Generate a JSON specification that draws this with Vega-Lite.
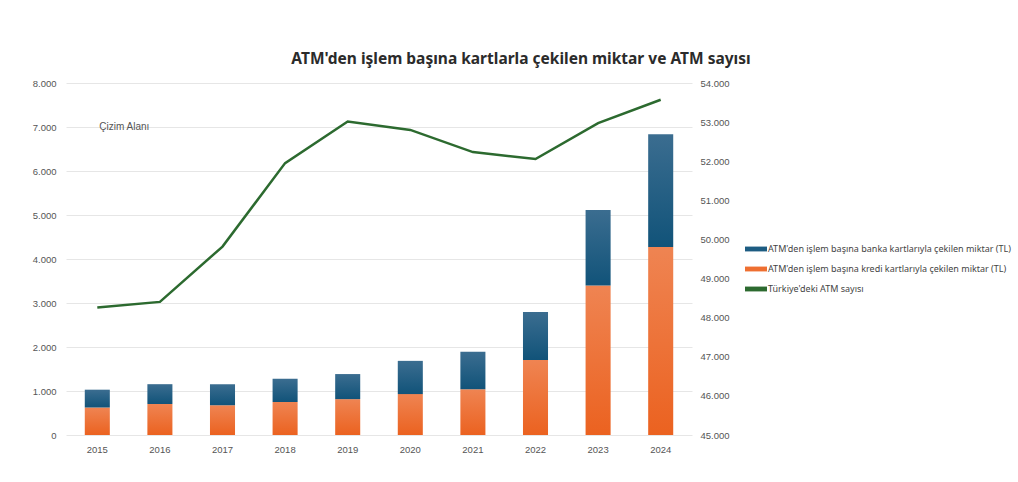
{
  "$schema": "https://vega.github.io/schema/vega-lite/v6.json",
  "width": 626,
  "height": 352,
  "autosize": "none",
  "padding": {"left": 66, "top": 83, "right": 326, "bottom": 47},
  "background": "white",
  "title": {
    "text": "ATM'den işlem başına kartlarla çekilen miktar ve ATM sayısı",
    "font": "Noto Sans",
    "fontSize": 15.5,
    "fontWeight": "bold",
    "color": "#2b2b2b",
    "anchor": "middle",
    "dx": 142,
    "offset": 11
  },
  "config": {
    "locale": {"number": {"decimal": ",", "thousands": ".", "grouping": [3], "currency": ["", " TL"]}},
    "view": {"stroke": null},
    "axis": {"labelFont": "Liberation Sans", "labelFontSize": 9.5, "labelColor": "#555555", "ticks": false, "domain": false, "title": null, "labelOverlap": false}
  },
  "datasets": {
    "bars": [
      {"year": "2015", "series": "ATM'den işlem başına kredi kartlarıyla çekilen miktar (TL)", "value": 625},
      {"year": "2015", "series": "ATM'den işlem başına banka kartlarıyla çekilen miktar (TL)", "value": 405},
      {"year": "2016", "series": "ATM'den işlem başına kredi kartlarıyla çekilen miktar (TL)", "value": 705},
      {"year": "2016", "series": "ATM'den işlem başına banka kartlarıyla çekilen miktar (TL)", "value": 450},
      {"year": "2017", "series": "ATM'den işlem başına kredi kartlarıyla çekilen miktar (TL)", "value": 675},
      {"year": "2017", "series": "ATM'den işlem başına banka kartlarıyla çekilen miktar (TL)", "value": 480},
      {"year": "2018", "series": "ATM'den işlem başına kredi kartlarıyla çekilen miktar (TL)", "value": 750},
      {"year": "2018", "series": "ATM'den işlem başına banka kartlarıyla çekilen miktar (TL)", "value": 530},
      {"year": "2019", "series": "ATM'den işlem başına kredi kartlarıyla çekilen miktar (TL)", "value": 815},
      {"year": "2019", "series": "ATM'den işlem başına banka kartlarıyla çekilen miktar (TL)", "value": 570},
      {"year": "2020", "series": "ATM'den işlem başına kredi kartlarıyla çekilen miktar (TL)", "value": 930},
      {"year": "2020", "series": "ATM'den işlem başına banka kartlarıyla çekilen miktar (TL)", "value": 755},
      {"year": "2021", "series": "ATM'den işlem başına kredi kartlarıyla çekilen miktar (TL)", "value": 1040},
      {"year": "2021", "series": "ATM'den işlem başına banka kartlarıyla çekilen miktar (TL)", "value": 850},
      {"year": "2022", "series": "ATM'den işlem başına kredi kartlarıyla çekilen miktar (TL)", "value": 1705},
      {"year": "2022", "series": "ATM'den işlem başına banka kartlarıyla çekilen miktar (TL)", "value": 1090},
      {"year": "2023", "series": "ATM'den işlem başına kredi kartlarıyla çekilen miktar (TL)", "value": 3400},
      {"year": "2023", "series": "ATM'den işlem başına banka kartlarıyla çekilen miktar (TL)", "value": 1715},
      {"year": "2024", "series": "ATM'den işlem başına kredi kartlarıyla çekilen miktar (TL)", "value": 4275},
      {"year": "2024", "series": "ATM'den işlem başına banka kartlarıyla çekilen miktar (TL)", "value": 2560}
    ],
    "atm": [
      {"year": "2015", "atm": 48257},
      {"year": "2016", "atm": 48403},
      {"year": "2017", "atm": 49818},
      {"year": "2018", "atm": 51952},
      {"year": "2019", "atm": 53017},
      {"year": "2020", "atm": 52800},
      {"year": "2021", "atm": 52234},
      {"year": "2022", "atm": 52055},
      {"year": "2023", "atm": 52976},
      {"year": "2024", "atm": 53572}
    ],
    "note": [
      {"year": "2015", "value": 7000, "label": "Çizim Alanı"}
    ]
  },
  "layer": [
    {
      "layer": [
        {
          "data": {"name": "bars"},
          "mark": {"type": "bar"},
          "encoding": {
            "x": {
              "field": "year", "type": "ordinal",
              "scale": {"paddingInner": 0.6, "paddingOuter": 0.3},
              "axis": {"labelAngle": 0, "labelPadding": 9, "grid": false}
            },
            "y": {
              "field": "value", "type": "quantitative", "stack": "zero",
              "scale": {"domain": [0, 8000]},
              "axis": {"format": ",d", "values": [0,1000,2000,3000,4000,5000,6000,7000,8000], "grid": true, "gridColor": "#e6e6e6", "labelPadding": 10}
            },
            "fill": {
              "condition": {
                "test": "indexof(datum.series, 'kredi') >= 0",
                "value": {"gradient": "linear", "x1": 0, "y1": 0, "x2": 0, "y2": 1, "stops": [{"offset": 0, "color": "#ef8452"}, {"offset": 1, "color": "#eb6220"}]}
              },
              "value": {"gradient": "linear", "x1": 0, "y1": 0, "x2": 0, "y2": 1, "stops": [{"offset": 0, "color": "#3b6d90"}, {"offset": 1, "color": "#115379"}]}
            },
            "order": {"field": "series", "sort": "descending"}
          }
        },
        {
          "data": {"name": "note"},
          "mark": {"type": "text", "align": "left", "dx": 2, "font": "Liberation Sans", "fontSize": 10, "color": "#555555"},
          "encoding": {
            "x": {"field": "year", "type": "ordinal"},
            "y": {"field": "value", "type": "quantitative"},
            "text": {"field": "label"}
          }
        }
      ]
    },
    {
      "data": {"name": "atm"},
      "mark": {"type": "line", "strokeWidth": 2.5},
      "encoding": {
        "x": {"field": "year", "type": "ordinal"},
        "y": {
          "field": "atm", "type": "quantitative",
          "scale": {"domain": [45000, 54000]},
          "axis": {"orient": "right", "format": ",d", "values": [45000,46000,47000,48000,49000,50000,51000,52000,53000,54000], "grid": false, "labelPadding": 8}
        },
        "color": {
          "datum": "Türkiye'deki ATM sayısı",
          "type": "nominal",
          "scale": {
            "domain": [
              "ATM'den işlem başına banka kartlarıyla çekilen miktar (TL)",
              "ATM'den işlem başına kredi kartlarıyla çekilen miktar (TL)",
              "Türkiye'deki ATM sayısı"
            ],
            "range": ["#1d5c82", "#ee6f31", "#2c6a2f"]
          },
          "legend": {
            "title": null,
            "orient": "none",
            "legendX": 679,
            "legendY": 155,
            "direction": "vertical",
            "symbolType": "M-1,-0.22H1V0.22H-1Z",
            "symbolSize": 484,
            "symbolStrokeWidth": 0,
            "labelFont": "Noto Sans",
            "labelFontSize": 9,
            "labelColor": "#444444",
            "labelOffset": 1,
            "rowPadding": 4,
            "labelLimit": 400,
            "encode": {"symbols": {"update": {"fill": {"scale": "color", "field": "value"}, "fillOpacity": {"value": 1}, "strokeWidth": {"value": 0}}}}
          }
        }
      }
    }
  ],
  "resolve": {"scale": {"y": "independent"}}
}
